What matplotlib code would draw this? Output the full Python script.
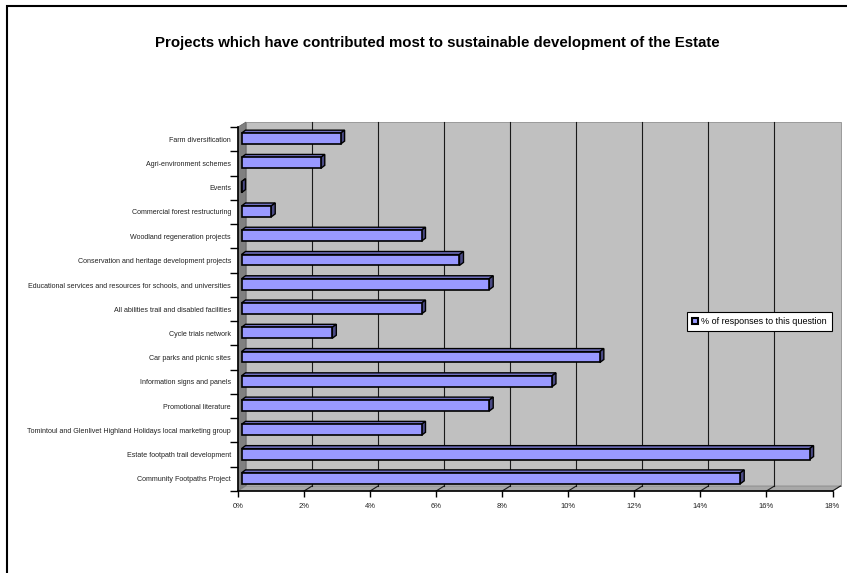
import matplotlib
matplotlib.use("Agg")
import matplotlib.pyplot as plt
from matplotlib.patches import Polygon, Rectangle, Patch
import numpy as np

plt.rcParams['font.family'] = ['Liberation Sans', 'DejaVu Sans']

title = "Projects which have contributed most to sustainable development of the Estate"
categories = [
    "Farm diversification",
    "Agri-environment schemes",
    "Events",
    "Commercial forest restructuring",
    "Woodland regeneration projects",
    "Conservation and heritage development projects",
    "Educational services and resources for schools, and universities",
    "All abilities trail and disabled facilities",
    "Cycle trials network",
    "Car parks and picnic sites",
    "Information signs and panels",
    "Promotional literature",
    "Tomintoul and Glenlivet Highland Holidays local marketing group",
    "Estate footpath trail development",
    "Community Footpaths Project",
]
values = [3.0, 2.4, 0.0, 0.9, 5.45, 6.6, 7.5, 5.45, 2.75, 10.85, 9.4, 7.5, 5.45, 17.2, 15.1]
series_name = "% of responses to this question"
xticks = [0, 2, 4, 6, 8, 10, 12, 14, 16, 18]
xticklabels = [f"{t}%" for t in xticks]

W, H = 847, 573
fig = plt.figure(figsize=(W / 100, H / 100), dpi=100)
fig.patch.set_facecolor("white")

# axes = front plane of 3D chart (pixel layout)
x0p, x1p = 238, 832.5
y0p, y1p = 127, 491
ax = fig.add_axes([x0p / W, 1 - y1p / H, (x1p - x0p) / W, (y1p - y0p) / H])
n = len(categories)
xmax = 18
ax.set_xlim(0, xmax)
ax.set_ylim(-0.5, n - 0.5)
ax.set_facecolor("none")
sx = xmax / (x1p - x0p)   # data per px
sy = n / (y1p - y0p)

ypos = np.arange(n)[::-1]  # first category at top

# depth of walls (px)
wdx, wdy = 8 * sx, 5 * sy
ylo, yhi = -0.5, n - 0.5

# back wall
ax.add_patch(Rectangle((wdx, ylo + wdy), xmax, n, facecolor="#C0C0C0",
                       edgecolor="#909090", lw=0.6, zorder=0, clip_on=False))
# left wall
ax.add_patch(Polygon([(0, ylo), (0, yhi), (wdx, yhi + wdy), (wdx, ylo + wdy)],
                     closed=True, facecolor="#808080", edgecolor="#606060",
                     lw=0.5, zorder=1, clip_on=False))
# floor
ax.add_patch(Polygon([(0, ylo), (xmax, ylo), (xmax + wdx, ylo + wdy), (wdx, ylo + wdy)],
                     closed=True, facecolor="#A8A8A8", edgecolor="#808080",
                     lw=0.5, zorder=1, clip_on=False))
# gridlines on back wall and floor
for t in xticks[1:-1]:
    ax.plot([t + wdx, t + wdx], [ylo + wdy, yhi + wdy], color="#1a1a1a", lw=0.8,
            zorder=1.5, clip_on=False)
for t in xticks[1:]:
    ax.plot([t, t + wdx], [ylo, ylo + wdy], color="#1a1a1a", lw=0.8,
            zorder=1.5, clip_on=False)

# bars
bfx, bfy = 3.5 * sx, 0.5 * sy    # offset of bar front face
bdx, bdy = 4 * sx, 3 * sy        # bar depth
h = 0.45
ax.barh(ypos + bfy, values, left=bfx, height=h, color="#9999FF",
        edgecolor="black", lw=1.2, zorder=3, clip_on=False)
for y, v in zip(ypos, values):
    yb, yt = y + bfy - h / 2, y + bfy + h / 2
    xl, xr = bfx, bfx + v
    ax.add_patch(Polygon([(xl, yt), (xr, yt), (xr + bdx, yt + bdy), (xl + bdx, yt + bdy)],
                         closed=True, facecolor="#7070C0", edgecolor="black",
                         lw=1.0, zorder=2.9, clip_on=False))
    ax.add_patch(Polygon([(xr, yb), (xr, yt), (xr + bdx, yt + bdy), (xr + bdx, yb + bdy)],
                         closed=True, facecolor="#4A4A85", edgecolor="black",
                         lw=1.0, zorder=2.9, clip_on=False))

# axes spines / ticks
for s in ["top", "right"]:
    ax.spines[s].set_visible(False)
for s in ["left", "bottom"]:
    ax.spines[s].set_linewidth(1.2)
    ax.spines[s].set_zorder(4)
ax.set_xticks(xticks)
ax.set_xticklabels(xticklabels, fontsize=5.5, color="#222222")
ax.tick_params(axis="x", direction="out", length=4.3, width=1.0, pad=4.5)
ax.set_yticks(ypos)
ax.set_yticklabels(categories, fontsize=5.1, color="#222222")
ax.set_yticks(np.arange(n + 1) - 0.5, minor=True)
ax.tick_params(axis="y", which="major", length=0, pad=5)
ax.tick_params(axis="y", which="minor", length=5.8, width=1.0, direction="out")
ax.tick_params(axis="x", which="minor", length=0)

# title
fig.text(437 / W, 1 - 43 / H, title, ha="center", va="center", fontsize=10.8,
         fontweight="bold")

# legend
leg = fig.legend(handles=[Patch(facecolor="#9999FF", edgecolor="black", lw=1.5)],
                 labels=[series_name], loc="center left",
                 bbox_to_anchor=(687 / W, 1 - 321.5 / H), fontsize=6.5,
                 frameon=True, fancybox=False, edgecolor="black", framealpha=1,
                 handlelength=0.65, handleheight=0.65, handletextpad=0.35,
                 borderpad=0.55, borderaxespad=0)
leg.get_frame().set_linewidth(0.8)

# outer frame
fig.patches.append(Rectangle((7 / W, -0.1), 2, 1 - 6 / H + 0.1, transform=fig.transFigure,
                             fill=False, edgecolor="black", lw=1.5))

fig.savefig("out.png", dpi=100)
